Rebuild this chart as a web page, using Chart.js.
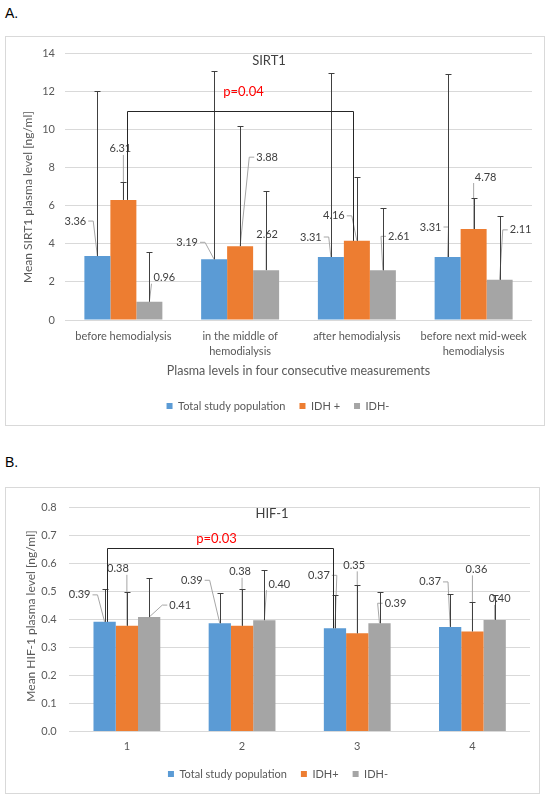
<!DOCTYPE html>
<html>
<head>
<meta charset="utf-8">
<script src="https://cdn.jsdelivr.net/npm/chart.js@4.4.1/dist/chart.umd.min.js"></script>
<style>
body { margin: 0; background: #fff; width: 550px; height: 798px; position: relative; }
.tag { position: absolute; left: 5px; font: 14px "Liberation Sans", Arial, sans-serif; color: #000; line-height: 16px; }
.box { position: absolute; left: 5px; border: 1px solid #d9d9d9; box-sizing: border-box; }
.box canvas { display: block; }
</style>
</head>
<body>
<div class="tag" style="top:5px">A.</div>
<div class="box" style="top:36px;width:540px;height:390px"><canvas id="chartA" width="538" height="388"></canvas></div>
<div class="tag" style="top:454px">B.</div>
<div class="box" style="top:487px;width:535px;height:307px"><canvas id="chartB" width="533" height="305"></canvas></div>

<script>
// SIRT1 (panel A)
const sirtCategories = [['before hemodialysis'], ['in the middle of', 'hemodialysis'], ['after hemodialysis'], ['before next mid-week', 'hemodialysis']];
const sirtTotal = [3.36, 3.19, 3.31, 3.31];
const sirtIdhPlus = [6.31, 3.88, 4.16, 4.78];
const sirtIdhMinus = [0.96, 2.62, 2.61, 2.11];
const sirtSdTotal = [8.69, 9.87, 9.68, 9.61];
const sirtSdIdhPlus = [0.94, 6.29, 3.37, 1.62];
const sirtSdIdhMinus = [2.61, 4.15, 3.30, 3.37];
const sirtTicks = [0, 2, 4, 6, 8, 10, 12, 14];

// HIF-1 (panel B)
const hifCategories = ['1', '2', '3', '4'];
const hifTotal = [0.391, 0.386, 0.368, 0.373];
const hifIdhPlus = [0.377, 0.377, 0.350, 0.357];
const hifIdhMinus = [0.408, 0.397, 0.386, 0.398];
const hifSdTotal = [0.119, 0.107, 0.119, 0.117];
const hifSdIdhPlus = [0.122, 0.132, 0.174, 0.104];
const hifSdIdhMinus = [0.140, 0.180, 0.113, 0.089];
const hifTicks = [0, 0.1, 0.2, 0.3, 0.4, 0.5, 0.6, 0.7, 0.8];

const COLORS = ['#5b9bd5', '#ed7d31', '#a5a5a5'];
const TEXT = '#595959';
const FONT = 'Lato, "Open Sans", sans-serif';

Chart.defaults.font.family = FONT;
Chart.defaults.color = TEXT;

// label placement (offset of the label centre from the top of its bar), not data
const sirtLabelPos = [
    [[-22, -35], [-27, -17], [-20, -20], [-17, -30]],
    [[-3, -51], [27, -89], [-23, -25], [12, -52]],
    [[15, -24], [1, -36], [16, -34], [21, -50]]
];
const hifLabelPos = [
    [[-25, -27], [-28, -43], [-16, -53], [-20, -45]],
    [[-9, -57], [-2, -54], [-3, -68], [4, -62]],
    [[31, -12], [15, -36], [16, -20], [5, -21]]
];

function drawLeader(ctx, cx, cy, w, ax, ay) {
    const l = cx - w / 2 - 2, r = cx + w / 2 + 2, b = cy + 6;
    if (Math.hypot(ax - cx, ay - cy) < 14) return;
    ctx.beginPath();
    if (ax > r + 3) {
        ctx.moveTo(r, cy); ctx.lineTo(r + 5, cy); ctx.lineTo(ax, ay);
    } else if (ax < l - 3) {
        ctx.moveTo(l, cy); ctx.lineTo(l - 5, cy); ctx.lineTo(ax, ay);
    } else {
        ctx.moveTo(Math.min(Math.max(ax, l), r), b); ctx.lineTo(ax, ay);
    }
    ctx.stroke();
}

const decor = {
    id: 'decor',
    afterDatasetsDraw(chart, args, o) {
        const ctx = chart.ctx;
        const ys = chart.scales.y;
        ctx.save();

        // data labels + leader lines
        ctx.font = '11px ' + FONT;
        ctx.textAlign = 'center';
        ctx.textBaseline = 'middle';
        chart.data.datasets.forEach((ds, d) => {
            chart.getDatasetMeta(d).data.forEach((bar, i) => {
                const txt = ds.data[i].toFixed(2);
                const [dx, dy] = o.labelPos[d][i];
                const cx = bar.x + dx, cy = bar.y + dy;
                const w = ctx.measureText(txt).width;
                ctx.strokeStyle = '#a6a6a6';
                ctx.lineWidth = 1;
                drawLeader(ctx, cx, cy, w, bar.x, bar.y);
                ctx.fillStyle = '#404040';
                ctx.fillText(txt, cx, cy);
            });
        });

        // error bars (plus only)
        ctx.strokeStyle = '#404040';
        ctx.lineWidth = 1;
        o.errors.forEach((sd, d) => {
            chart.getDatasetMeta(d).data.forEach((bar, i) => {
                const top = Math.round(ys.getPixelForValue(chart.data.datasets[d].data[i] + sd[i])) + 0.5;
                const x = Math.round(bar.x) + 0.5;
                ctx.beginPath();
                ctx.moveTo(x, bar.y); ctx.lineTo(x, top);
                ctx.moveTo(x - 3, top); ctx.lineTo(x + 3, top);
                ctx.stroke();
            });
        });

        // significance bracket
        const br = o.bracket;
        const b1 = chart.getDatasetMeta(br.ds).data[br.from];
        const b2 = chart.getDatasetMeta(br.ds).data[br.to];
        const x1 = Math.round(b1.x + br.dx1) + 0.5, x2 = Math.round(b2.x + br.dx2) + 0.5;
        const by = Math.round(ys.getPixelForValue(br.level)) + 0.5;
        ctx.strokeStyle = '#262626';
        ctx.beginPath();
        ctx.moveTo(x1, b1.y); ctx.lineTo(x1, by); ctx.lineTo(x2, by); ctx.lineTo(x2, b2.y);
        ctx.stroke();
        ctx.font = '13px ' + FONT;
        ctx.fillStyle = '#ff0000';
        ctx.fillText(br.text, (x1 + x2) / 2 + br.tdx, by + br.tdy);

        // chart title
        ctx.fillStyle = '#404040';
        ctx.fillText(o.title, o.titleX, o.titleY);

        // y axis title
        ctx.font = '12px ' + FONT;
        ctx.fillStyle = TEXT;
        ctx.translate(o.yTitleX, o.yTitleY);
        ctx.rotate(-Math.PI / 2);
        ctx.fillText(o.yTitle, 0, 0);
        ctx.restore();
    }
};

function makeChart(id, cfg) {
    return new Chart(document.getElementById(id), {
        type: 'bar',
        data: {
            labels: cfg.labels,
            datasets: cfg.series.map((s, i) => ({
                label: cfg.names[i], data: s, backgroundColor: COLORS[i], borderWidth: 0,
                categoryPercentage: cfg.catPct, barPercentage: 1
            }))
        },
        options: {
            responsive: false,
            animation: false,
            layout: { padding: cfg.padding },
            plugins: {
                legend: {
                    position: 'bottom',
                    labels: { boxWidth: 6, boxHeight: 6, padding: 14, font: { size: 11 }, color: TEXT }
                },
                tooltip: { enabled: false },
                decor: cfg.decor
            },
            scales: {
                x: {
                    grid: { display: false, drawTicks: false },
                    border: { display: false },
                    ticks: { font: { size: 11, lineHeight: 1.364 }, padding: cfg.xPad, maxRotation: 0, autoSkip: false, color: TEXT },
                    title: cfg.xTitle ? { display: true, text: cfg.xTitle, font: { size: 12.5 }, color: TEXT, padding: { top: 0, bottom: 8.3 } } : { display: false },
                    afterFit: s => { s.height = cfg.xHeight; }
                },
                y: {
                    min: cfg.ticks[0], max: cfg.ticks[cfg.ticks.length - 1],
                    afterBuildTicks: s => { s.ticks = cfg.ticks.map(v => ({ value: v })); },
                    grid: { color: '#d9d9d9', drawTicks: false },
                    border: { display: false },
                    ticks: { font: { size: 11 }, padding: cfg.yPad, color: TEXT, callback: cfg.yFmt },
                    afterFit: s => { s.width = cfg.yWidth; }
                }
            }
        },
        plugins: [decor]
    });
}

makeChart('chartA', {
    labels: sirtCategories,
    names: ['Total study population', 'IDH +', 'IDH-'],
    series: [sirtTotal, sirtIdhPlus, sirtIdhMinus],
    ticks: sirtTicks,
    yFmt: v => String(v),
    catPct: 0.668,
    padding: { left: 18, right: 12, top: 14.7, bottom: 3.5 },
    yWidth: 41, yPad: 10,
    xHeight: 66.5, xPad: 9.2,
    xTitle: 'Plasma levels in four consecutive measurements',
    decor: {
        errors: [sirtSdTotal, sirtSdIdhPlus, sirtSdIdhMinus],
        labelPos: sirtLabelPos,
        bracket: { ds: 1, from: 0, to: 2, dx1: 3.5, dx2: -4, level: 11, text: 'p=0.04', tdx: 3, tdy: -20 },
        title: 'SIRT1', titleX: 263, titleY: 24,
        yTitle: 'Mean SIRT1 plasma level [ng/ml]', yTitleX: 22.3, yTitleY: 160
    }
});

makeChart('chartB', {
    labels: hifCategories,
    names: ['Total study population', 'IDH+', 'IDH-'],
    series: [hifTotal, hifIdhPlus, hifIdhMinus],
    ticks: hifTicks,
    yFmt: v => v.toFixed(1),
    catPct: 0.58,
    padding: { left: 20, right: 9, top: 13.7, bottom: 3.5 },
    yWidth: 43.3, yPad: 12.6,
    xHeight: 23, xPad: 7.7,
    xTitle: null,
    decor: {
        errors: [hifSdTotal, hifSdIdhPlus, hifSdIdhMinus],
        labelPos: hifLabelPos,
        bracket: { ds: 0, from: 0, to: 2, dx1: 2, dx2: -2, level: 0.656, text: 'p=0.03', tdx: -4, tdy: -10 },
        title: 'HIF-1', titleX: 266, titleY: 26,
        yTitle: 'Mean HIF-1 plasma level [ng/ml]', yTitleX: 25, yTitleY: 128
    }
});
</script>
</body>
</html>
